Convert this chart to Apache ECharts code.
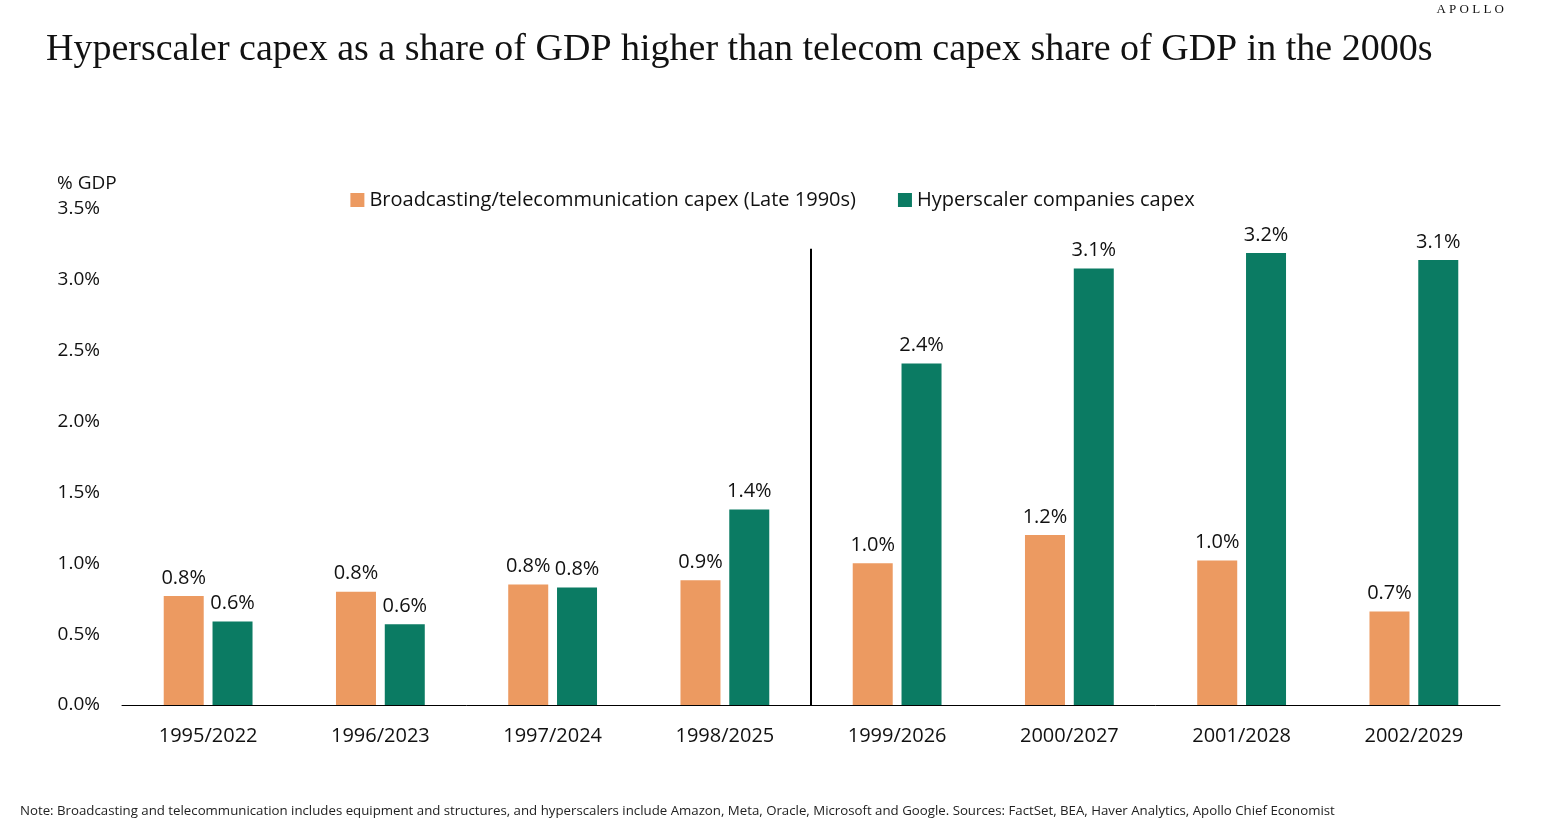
<!DOCTYPE html>
<html>
<head>
<meta charset="utf-8">
<script src="https://cdn.jsdelivr.net/npm/echarts@6/dist/echarts.min.js"></script>
<style>
  html, body { margin: 0; padding: 0; background: #fff; }
  #chart { width: 1545px; height: 836px; }
</style>
</head>
<body>
<div id="chart"></div>
<script>
// categories: late 1990s telecom year / hyperscaler year
const categories = ['1995/2022', '1996/2023', '1997/2024', '1998/2025',
                    '1999/2026', '2000/2027', '2001/2028', '2002/2029'];
// % of GDP
const telecomCapex = [0.77, 0.80, 0.85, 0.88, 1.00, 1.20, 1.02, 0.66];
const hyperscalerCapex = [0.59, 0.57, 0.83, 1.38, 2.41, 3.08, 3.19, 3.14];
const seriesNames = ['Broadcasting/telecommunication capex (Late 1990s)', 'Hyperscaler companies capex'];
const dividerIndex = 4; // line drawn before 1999/2026
const dividerTop = 3.22;

const sans = '"Open Sans", "Noto Sans", sans-serif';
const chart = echarts.init(document.getElementById('chart'));

const labelOpt = {
  show: true, position: 'top', distance: 8, fontSize: 20, color: '#111',
  fontFamily: sans,
  formatter: p => p.value.toFixed(1) + '%'
};

const option = {
  backgroundColor: '#ffffff',
  animation: false,
  textStyle: { fontFamily: sans, color: '#111' },
  title: {
    text: 'Hyperscaler capex as a share of GDP higher than telecom capex share of GDP in the 2000s',
    left: 41,
    top: 26,
    textStyle: {
      fontFamily: '"Liberation Serif", serif',
      fontWeight: 'normal',
      fontSize: 38,
      color: '#111'
    }
  },
  legend: {
    top: 185,
    left: 'center',
    itemWidth: 14,
    itemHeight: 14,
    itemGap: 42,
    icon: 'rect',
    textStyle: { fontSize: 20, color: '#111', fontFamily: sans },
    data: seriesNames
  },
  grid: { left: 122, right: 45, top: 209, bottom: 131, containLabel: false },
  xAxis: {
    type: 'category',
    data: categories,
    axisLine: { lineStyle: { color: '#000', width: 1 } },
    axisTick: { show: false },
    axisLabel: { fontSize: 20, color: '#111', margin: 21, fontFamily: sans }
  },
  yAxis: {
    type: 'value',
    min: 0,
    max: 3.5,
    interval: 0.5,
    splitLine: { show: false },
    axisLine: { show: false },
    axisTick: { show: false },
    axisLabel: {
      fontSize: 19, color: '#111', margin: 22, fontFamily: sans,
      formatter: v => v.toFixed(1) + '%'
    }
  },
  series: [
    {
      name: seriesNames[0],
      type: 'bar',
      data: telecomCapex,
      barWidth: 40,
      barGap: '22%',
      itemStyle: { color: '#EC9A61' },
      label: labelOpt
    },
    {
      name: seriesNames[1],
      type: 'bar',
      data: hyperscalerCapex,
      barWidth: 40,
      itemStyle: { color: '#0B7B63' },
      label: labelOpt
    }
  ],
  graphic: [
    {
      id: 'unit', type: 'text', left: 57, top: 174,
      style: { text: '% GDP', fontSize: 19, fill: '#111', fontFamily: sans }
    },
    {
      id: 'brand', type: 'text', right: 41, top: 3,
      style: { text: 'A P O L L O', fontSize: 13, fill: '#111', fontFamily: '"Liberation Serif", serif' }
    },
    {
      id: 'note', type: 'text', left: 20, top: 805,
      style: {
        text: 'Note: Broadcasting and telecommunication includes equipment and structures, and hyperscalers include Amazon, Meta, Oracle, Microsoft and Google. Sources: FactSet, BEA, Haver Analytics, Apollo Chief Economist',
        fontSize: 13.25, fill: '#222', fontFamily: sans
      }
    }
  ]
};

chart.setOption(option);

// divider between 1998 and 1999 groups, placed via the axis scale
const a = chart.convertToPixel({ xAxisIndex: 0 }, categories[dividerIndex - 1]);
const b = chart.convertToPixel({ xAxisIndex: 0 }, categories[dividerIndex]);
const yBase = chart.convertToPixel({ yAxisIndex: 0 }, 0);
const yTop = chart.convertToPixel({ yAxisIndex: 0 }, dividerTop);
const xMid = Math.round((a + b) / 2);
chart.setOption({
  graphic: [{
    id: 'divider',
    type: 'line',
    z: 10,
    shape: { x1: xMid, y1: yTop, x2: xMid, y2: yBase },
    style: { stroke: '#000', lineWidth: 2 }
  }]
});
</script>
</body>
</html>
